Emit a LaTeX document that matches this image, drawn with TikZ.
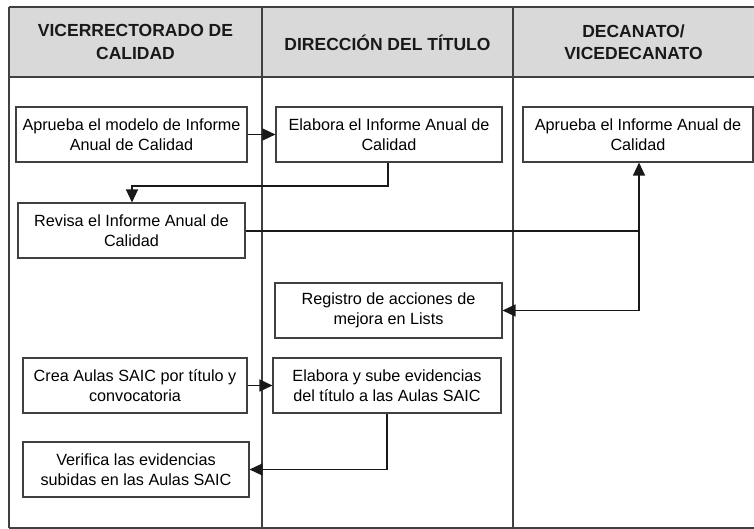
\documentclass[tikz,border=0pt]{standalone}
\usepackage{fontspec}
\setmainfont{Liberation Sans}
\usetikzlibrary{arrows.meta}
\definecolor{hdrgray}{HTML}{D9D9D9}
\definecolor{linegray}{HTML}{404040}
\tikzset{
  procbox/.style={draw=linegray, line width=1.1pt, fill=white, align=center, inner sep=0pt,
    minimum height=55pt, font=\fontsize{16.2}{20.5}\selectfont},
  hdrtext/.style={align=center, font=\fontsize{17.5}{22.5}\selectfont\bfseries, text=black!90},
  flow/.style={draw=black!90, line width=1.3pt, -{Triangle[length=13pt,width=12pt]}},
  frameline/.style={draw=linegray, line width=1.2pt}
}
\begin{document}
\begin{tikzpicture}[x=1pt,y=-1pt]
\useasboundingbox (0,0) rectangle (754,529);
% header band
\fill[hdrgray] (9,7) rectangle (760,77);
\draw[frameline] (9,7) -- (760,7);
\draw[frameline] (9,77) -- (760,77);
\draw[frameline] (9,7) -- (9,528);
\draw[frameline] (262,7) -- (262,528);
\draw[frameline] (513,7) -- (513,528);
\draw[frameline] (9,528) -- (760,528);
% header titles
\node[hdrtext] (h1) at (135.5,42) {VICERRECTORADO DE\\CALIDAD};
\node[hdrtext] (h2) at (387.5,43) {DIRECCIÓN DEL TÍTULO};
\node[hdrtext] (h3) at (633.5,42) {DECANATO/\\VICEDECANATO};
% process boxes
\node[procbox, minimum width=231pt] (a1) at (131.5,134.5) {Aprueba el modelo de Informe\\Anual de Calidad};
\node[procbox, minimum width=226pt] (b1) at (389,134.5) {Elabora el Informe Anual de\\Calidad};
\node[procbox, minimum width=230pt] (c1) at (638,134.5) {Aprueba el Informe Anual de\\Calidad};
\node[procbox, minimum width=227pt] (a2) at (131.5,230.5) {Revisa el Informe Anual de\\Calidad};
\node[procbox, minimum width=227pt] (b2) at (388.5,310.5) {Registro de acciones de\\mejora en Lists};
\node[procbox, minimum width=224pt] (a3) at (135,385.5) {Crea Aulas SAIC por título y\\convocatoria};
\node[procbox, minimum width=228pt] (b3) at (387,385.5) {Elabora y sube evidencias\\del título a las Aulas SAIC};
\node[procbox, minimum width=226pt] (a4) at (136,469.5) {Verifica las evidencias\\subidas en las Aulas SAIC};
% connectors
\coordinate (k1) at (388,186);
\coordinate (k2) at (132,186);
\coordinate (k3) at (639,231);
\coordinate (k4) at (639,310.5);
\coordinate (k5) at (387,469.5);
\draw[flow] (a1.east) -- (b1.west);
\draw[flow] (b1.south -| k1) -- (k1) -- (k2) -- (a2.north -| k2);
\draw[flow] (a2.east |- k3) -- (k3) -- (c1.south -| k3);
\draw[flow] (k3) -- (k4) -- (b2.east);
\draw[flow] (a3.east) -- (b3.west);
\draw[flow] (b3.south -| k5) -- (k5) -- (a4.east);
\end{tikzpicture}
\end{document}
